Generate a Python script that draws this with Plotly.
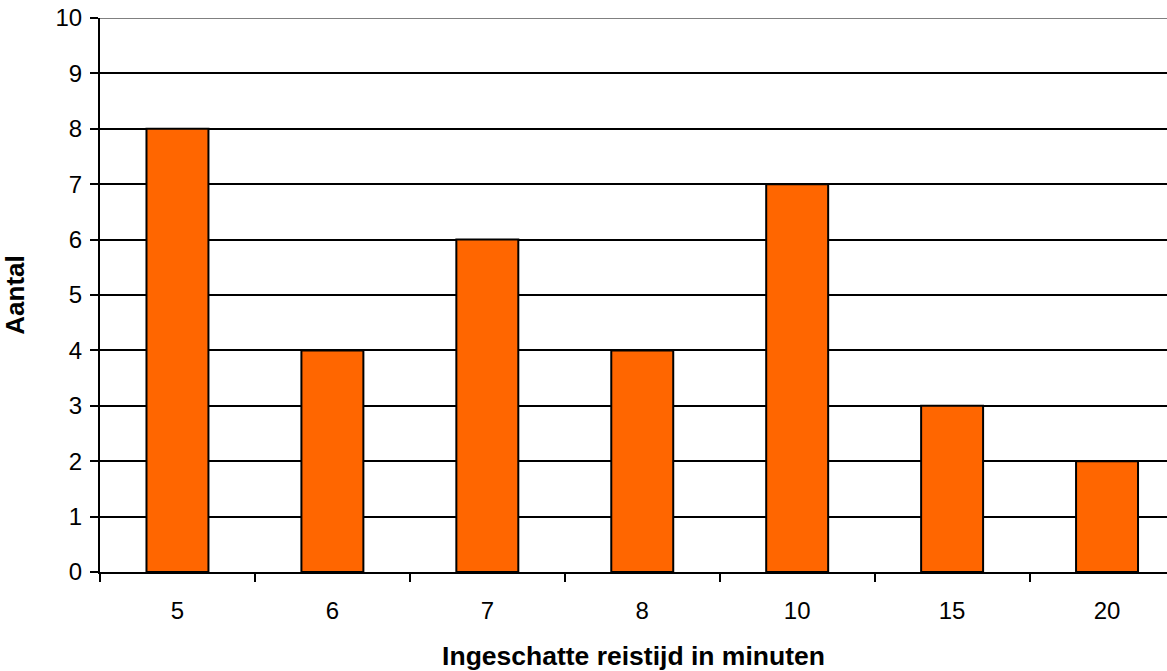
import plotly.graph_objects as go

categories = ["5", "6", "7", "8", "10", "15", "20"]
counts = [8, 4, 6, 4, 7, 3, 2]
y_ticks = list(range(0, 11))

fig = go.Figure()
fig.add_trace(go.Bar(
    x=categories, y=counts, width=0.4,
    marker=dict(color="#FF6600", line=dict(color="black", width=2)),
))

fig.add_shape(type="line", xref="paper", yref="y", x0=0, x1=1, y0=10, y1=10,
              line=dict(color="#808080", width=2), layer="above")

fig.update_layout(
    width=1167, height=671,
    margin=dict(l=100, r=0, t=18, b=99, autoexpand=False),
    paper_bgcolor="white", plot_bgcolor="white",
    font=dict(family="Liberation Sans, Arial", size=24, color="black"),
    showlegend=False,
    xaxis=dict(
        type="category", range=[-0.5, 6.387], automargin=False,
        showline=True, linecolor="black", linewidth=2,
        ticks="outside", tickson="boundaries", ticklen=8, tickwidth=2, tickcolor="black",
        showgrid=False,
        tickfont=dict(size=24),
        ticklabelstandoff=16,
        title=dict(text="<b>Ingeschatte reistijd in minuten</b>", font=dict(size=26.5), standoff=26),
    ),
    yaxis=dict(
        range=[0, 10], tickvals=y_ticks, automargin=False,
        showline=True, linecolor="black", linewidth=2,
        ticks="outside", ticklen=8, tickwidth=2, tickcolor="black",
        showgrid=True, gridcolor="black", gridwidth=2,
        zeroline=False,
        tickfont=dict(size=24),
        ticklabelstandoff=3,
        title=dict(text="<b>Aantal</b>", font=dict(size=26), standoff=23),
    ),
)

fig.write_html("out.html", config={"displayModeBar": False},
               post_script="document.body.style.margin='0';")
